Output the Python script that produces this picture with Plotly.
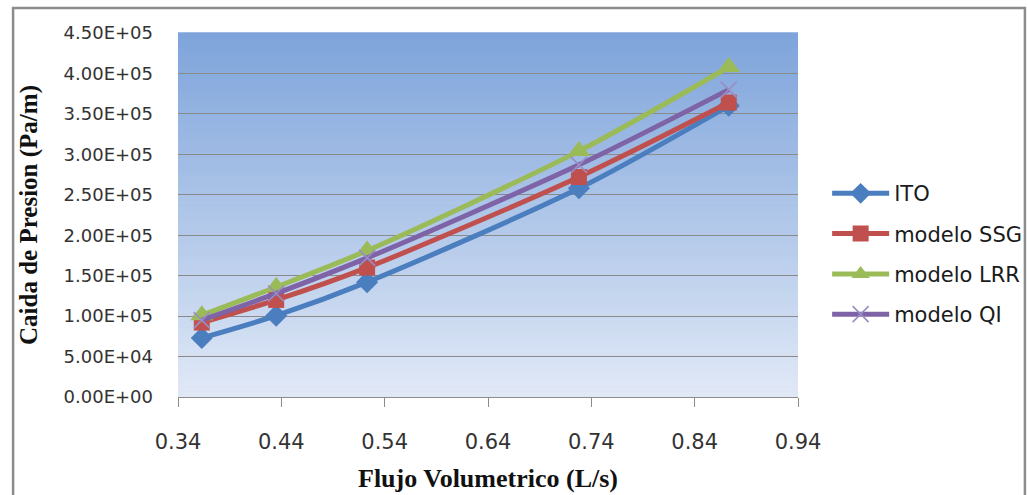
import plotly.graph_objects as go

# Flow rate (L/s) and pressure drop (Pa/m) for each model
flujo = [0.363, 0.435, 0.523, 0.728, 0.873]
ito = [7.3e4, 1.005e5, 1.42e5, 2.58e5, 3.60e5]
ssg = [9.2e4, 1.20e5, 1.60e5, 2.72e5, 3.64e5]
lrr = [1.01e5, 1.36e5, 1.81e5, 3.04e5, 4.08e5]
qi = [9.5e4, 1.28e5, 1.72e5, 2.87e5, 3.80e5]

series_names = ["ITO", "modelo SSG", "modelo LRR", "modelo QI"]
y_ticks = [0, 5e4, 1e5, 1.5e5, 2e5, 2.5e5, 3e5, 3.5e5, 4e5, 4.5e5]
x_ticks = [0.34, 0.44, 0.54, 0.64, 0.74, 0.84, 0.94]

styles = [
    dict(color="#4A7EBF", symbol="diamond", size=17, mline=dict(width=0)),
    dict(color="#C0504D", symbol="square", size=16, mline=dict(width=0)),
    dict(color="#9BBB59", symbol="triangle-up", size=20, mline=dict(width=0)),
    dict(color="#7E63A6", symbol="x-thin", size=16,
         mline=dict(width=1.6, color="#9A8CC4")),
]

fig = go.Figure()
for i, (name, vals, st) in enumerate(zip(series_names, [ito, ssg, lrr, qi], styles)):
    fig.add_trace(go.Scatter(
        x=flujo, y=vals, name=name, mode="lines+markers",
        legendgroup=f"g{i}",
        line=dict(color=st["color"], width=5, shape="spline", smoothing=0.8),
        marker=dict(symbol=st["symbol"], size=st["size"], color=st["color"],
                    line=st["mline"]),
    ))

# vertical gradient fill of the plot area
top_rgb = (126, 164, 219)
bot_rgb = (224, 232, 246)
n_bands = 90
for k in range(n_bands):
    t = k / (n_bands - 1)
    c = tuple(round(top_rgb[j] + (bot_rgb[j] - top_rgb[j]) * t) for j in range(3))
    fig.add_shape(type="rect", xref="x domain", yref="y domain",
                  x0=0, x1=1, y0=1 - (k + 1) / n_bands, y1=1 - k / n_bands + 0.002,
                  fillcolor=f"rgb{c}", line=dict(width=0), layer="below")

# outer chart frame
fig.add_shape(type="rect", xref="paper", yref="paper",
              x0=-0.266, x1=1.366, y0=-0.4, y1=1.069,
              line=dict(color="#8C8C8C", width=2.5), fillcolor="rgba(0,0,0,0)")

fig.update_layout(
    width=1028, height=495,
    margin=dict(l=178, r=230, t=33, b=98, autoexpand=False),
    paper_bgcolor="white", plot_bgcolor="rgba(0,0,0,0)",
    font=dict(family="DejaVu Sans", color="#222222"),
    showlegend=True,
    legend=dict(x=1.047, xanchor="left", y=0.615, yanchor="top",
                font=dict(family="DejaVu Sans", size=21, color="#1a1a1a"),
                itemwidth=57, tracegroupgap=10, bgcolor="rgba(0,0,0,0)",
                traceorder="grouped"),
)

fig.update_xaxes(
    range=[0.34, 0.94], tickvals=x_ticks, ticktext=[f"{v:.2f}" for v in x_ticks],
    showgrid=False, zeroline=False, showline=True, linecolor="#8C8C8C", linewidth=1.3,
    ticks="outside", ticklen=9, tickcolor="#8C8C8C", tickwidth=1.3,
    tickfont=dict(family="DejaVu Sans", size=21, color="#333333"),
    ticklabelstandoff=17,
    title=dict(text="<b>Flujo Volumetrico (L/s)</b>", standoff=15,
               font=dict(family="Liberation Serif", size=26, color="#111111")),
)
fig.update_yaxes(
    range=[0, 4.5e5], tickvals=y_ticks, ticktext=[f"{v:.2E}" for v in y_ticks],
    showgrid=True, gridcolor="#8A8A8A", gridwidth=1.3, zeroline=False, showline=False,
    ticks="", tickfont=dict(family="DejaVu Sans", size=18, color="#333333"),
    ticklabelstandoff=24,
    title=dict(text="<b>Caida de Presion (Pa/m)</b>", standoff=18,
               font=dict(family="Liberation Serif", size=25, color="#111111")),
)

fig.write_html("out.html")
